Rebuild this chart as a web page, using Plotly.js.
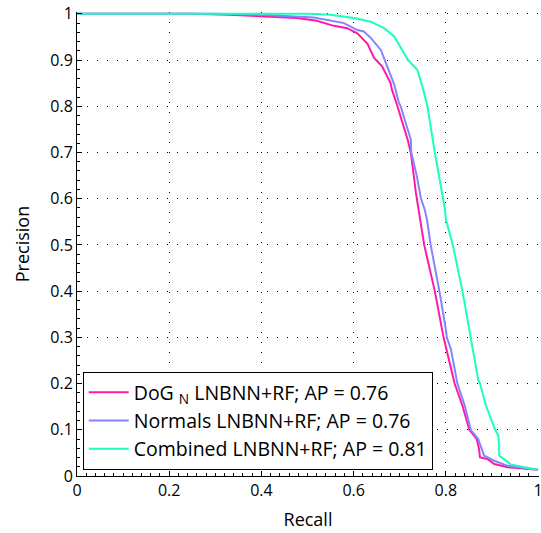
<!DOCTYPE html>
<html>
<head>
<meta charset="utf-8">
<script src="https://cdn.plot.ly/plotly-3.0.1.min.js"></script>
<style>html,body{margin:0;padding:0;background:#fff;}#chart{width:541px;height:533px;}</style>
</head>
<body>
<div id="chart"></div>
<script>
// DoG_N LNBNN+RF
const dogRecall = [0, 0.25, 0.33, 0.40, 0.477, 0.52, 0.557, 0.586, 0.608, 0.630, 0.644, 0.662, 0.680, 0.683, 0.695, 0.717, 0.724, 0.735, 0.737, 0.740, 0.743, 0.753, 0.776, 0.795, 0.819, 0.836, 0.851, 0.867, 0.872, 0.874, 0.890, 0.905, 0.934, 1.0];
const dogPrecision = [1, 1, 0.998, 0.995, 0.991, 0.985, 0.974, 0.969, 0.958, 0.935, 0.905, 0.886, 0.850, 0.836, 0.800, 0.728, 0.700, 0.613, 0.600, 0.577, 0.555, 0.500, 0.400, 0.300, 0.200, 0.152, 0.100, 0.080, 0.058, 0.040, 0.037, 0.026, 0.019, 0.0136];
// Normals LNBNN+RF
const norRecall = [0, 0.30, 0.40, 0.514, 0.579, 0.608, 0.622, 0.637, 0.659, 0.673, 0.688, 0.698, 0.702, 0.724, 0.725, 0.737, 0.746, 0.754, 0.759, 0.767, 0.786, 0.800, 0.802, 0.811, 0.825, 0.841, 0.854, 0.870, 0.883, 0.905, 0.934, 1.0];
const norPrecision = [1, 1, 0.998, 0.992, 0.980, 0.965, 0.962, 0.948, 0.922, 0.886, 0.847, 0.808, 0.800, 0.728, 0.700, 0.649, 0.600, 0.577, 0.555, 0.500, 0.400, 0.317, 0.300, 0.274, 0.200, 0.152, 0.100, 0.080, 0.044, 0.033, 0.022, 0.0136];
// Combined LNBNN+RF
const comRecall = [0, 0.50, 0.55, 0.601, 0.637, 0.666, 0.688, 0.702, 0.718, 0.738, 0.751, 0.760, 0.775, 0.776, 0.794, 0.798, 0.800, 0.815, 0.836, 0.851, 0.854, 0.870, 0.874, 0.887, 0.907, 0.914, 0.916, 0.930, 0.941, 0.970, 1.0];
const comPrecision = [1, 1, 0.998, 0.991, 0.983, 0.969, 0.951, 0.926, 0.900, 0.879, 0.836, 0.800, 0.706, 0.700, 0.600, 0.577, 0.555, 0.500, 0.400, 0.317, 0.300, 0.209, 0.200, 0.152, 0.100, 0.087, 0.044, 0.033, 0.025, 0.019, 0.0136];

const seriesNames = ["DoG <sub>N</sub> LNBNN+RF; AP = 0.76", "Normals LNBNN+RF; AP = 0.76", "Combined LNBNN+RF; AP = 0.81"];
const xTickVals = [0, 0.2, 0.4, 0.6, 0.8, 1];
const yTickVals = [0, 0.1, 0.2, 0.3, 0.4, 0.5, 0.6, 0.7, 0.8, 0.9, 1];

const FONT = "Open Sans, sans-serif";
const colors = ["#ff1aa3", "#8484ff", "#1affc0"];

const traces = [
  {x: dogRecall, y: dogPrecision, name: seriesNames[0], mode: "lines", line: {color: colors[0], width: 2}},
  {x: norRecall, y: norPrecision, name: seriesNames[1], mode: "lines", line: {color: colors[1], width: 2}},
  {x: comRecall, y: comPrecision, name: seriesNames[2], mode: "lines", line: {color: colors[2], width: 2}}
];

const axisCommon = {
  showline: true, linecolor: "#000", linewidth: 1,
  ticks: "inside", ticklen: 5, tickcolor: "#000", tickwidth: 1,
  showgrid: true, gridcolor: "#000", gridwidth: 1, griddash: "1px,9px",
  zeroline: false, mirror: false,
  ticklabeloverflow: "allow",
  tickfont: {family: FONT, size: 16, color: "#000"},
  minor: {ticks: "inside", ticklen: 3, tickcolor: "#000", dtick: 0.02, showgrid: false}
};

const layout = {
  width: 541, height: 533,
  margin: {l: 77, r: 2, t: 12, b: 57},
  paper_bgcolor: "#fff", plot_bgcolor: "#fff",
  showlegend: true,
  xaxis: Object.assign({}, axisCommon, {
    range: [0, 1.002], tickvals: xTickVals, ticktext: xTickVals.map(String),
    title: {text: "Recall", font: {family: FONT, size: 18, color: "#000"}, standoff: 13}
  }),
  yaxis: Object.assign({}, axisCommon, {
    range: [0, 1.004], tickvals: yTickVals, ticktext: yTickVals.map(String),
    title: {text: "Precision", font: {family: FONT, size: 18, color: "#000"}, standoff: 15}
  }),
  legend: {
    x: 0.0124, y: 0.013, xanchor: "left", yanchor: "bottom",
    bgcolor: "#fff", bordercolor: "#000", borderwidth: 1,
    font: {family: FONT, size: 19.5, color: "#000"},
    itemwidth: 40, tracegroupgap: 0
  }
};

Plotly.newPlot("chart", traces, layout, {displayModeBar: false, staticPlot: true});
</script>
</body>
</html>
